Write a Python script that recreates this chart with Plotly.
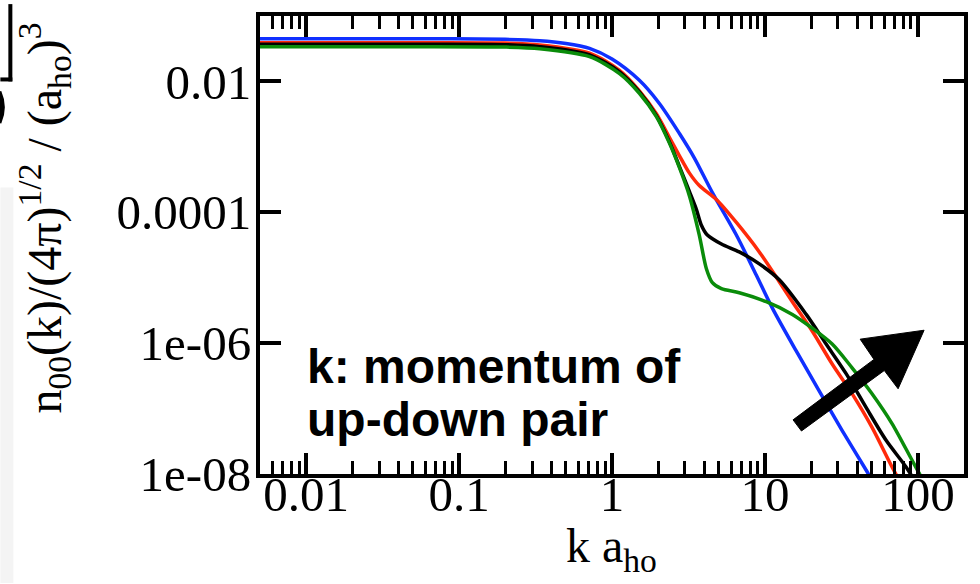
import plotly.graph_objects as go

# ---------------- data ----------------
k_blue = [0.005, 0.05, 0.2, 0.337, 0.5, 0.713, 1.0, 1.51, 2.04, 2.76, 3.45, 4.53, 6.5, 8.77, 11.2, 16.0, 22.6, 31.9, 45.8, 60]
n_blue = [0.045, 0.045, 0.044, 0.042, 0.038, 0.032, 0.022, 0.0104, 0.0046, 0.0016, 6.8e-4, 2.0e-4, 4.5e-5, 1.1e-5, 3.4e-6, 7.6e-7, 1.87e-7, 4.65e-8, 1.15e-8, 3.9e-9]

k_red = [0.005, 0.05, 0.2, 0.337, 0.713, 1.12, 1.51, 1.95, 2.37, 2.76, 3.2, 3.72, 4.81, 6.5, 9.18, 12.4, 15.1, 20.4, 27.5, 37.1, 50.1, 67.7, 80]
n_red = [0.039, 0.039, 0.0385, 0.036, 0.027, 0.0148, 0.0072, 0.0032, 1.4e-3, 7.3e-4, 4.0e-4, 2.56e-4, 1.57e-4, 7.0e-5, 2.48e-5, 8.7e-6, 4.3e-6, 1.52e-6, 4.8e-7, 1.69e-7, 5.15e-8, 1.28e-8, 6.3e-9]

k_black = [0.005, 0.05, 0.2, 0.337, 0.713, 1.12, 1.51, 1.95, 2.37, 2.76, 3.2, 3.56, 3.84, 4.2, 5.19, 6.79, 9.18, 12.4, 18.6, 25.1, 34.0, 45.8, 61.9, 83.6, 100]
n_black = [0.037, 0.037, 0.0365, 0.034, 0.0255, 0.014, 0.0069, 0.0030, 1.2e-3, 5.0e-4, 2.1e-4, 1.11e-4, 6.35e-5, 4.49e-5, 3.27e-5, 2.48e-5, 1.63e-5, 9.3e-6, 2.75e-6, 9.7e-7, 3.39e-7, 1.04e-7, 3.27e-8, 1.28e-8, 6.5e-9]

k_green = [0.005, 0.05, 0.2, 0.337, 0.713, 1.12, 1.51, 1.95, 2.37, 2.76, 3.2, 3.72, 4.14, 4.53, 5.19, 6.79, 10.2, 15.1, 20.4, 27.5, 37.1, 50.1, 67.7, 91.4, 110]
n_green = [0.034, 0.034, 0.0335, 0.0316, 0.0239, 0.0132, 0.0066, 0.0029, 1.15e-3, 4.8e-4, 1.81e-4, 4.49e-5, 1.37e-5, 8.4e-6, 6.8e-6, 5.9e-6, 4.3e-6, 2.75e-6, 1.69e-6, 9.7e-7, 4.2e-7, 1.69e-7, 5.9e-8, 1.63e-8, 7.4e-9]

x_tickvals = [0.01, 0.1, 1, 10, 100]
x_ticktext = ["0.01", "0.1", "1", "10", "100"]
y_tickvals = [1e-8, 1e-6, 1e-4, 1e-2]
y_ticktext = ["1e-08", "1e-06", "0.0001", "0.01"]
x_minor = [m * 10.0 ** e for e in range(-3, 3) for m in range(2, 10)]

# ---------------- layout geometry ----------------
W, H = 980, 584
L, R, T, B = 260, 15, 12, 110
PW, PH = W - L - R, H - T - B


def px(x):
    return (x - L) / PW


def py(y):
    return (H - B - y) / PH


SERIF = "Liberation Serif, Times New Roman, serif"
SANS = "Liberation Sans, Arial, sans-serif"

fig = go.Figure()
series = [
    (k_blue, n_blue, "#1030ff"),
    (k_red, n_red, "#ff2a0a"),
    (k_black, n_black, "#000000"),
    (k_green, n_green, "#0a8c0a"),
]
for kx, ny, col in series:
    fig.add_trace(go.Scatter(x=kx, y=ny, mode="lines",
                             line=dict(color=col, width=3.5, shape="spline", smoothing=0.8),
                             showlegend=False, hoverinfo="skip"))

axis_common = dict(showline=True, linecolor="black", linewidth=4, mirror="allticks",
                   ticks="inside", tickcolor="black", tickwidth=4, ticklen=21,
                   showgrid=False, zeroline=False,
                   tickfont=dict(family=SERIF, size=49, color="black"))

fig.update_xaxes(type="log", range=[-2.30103, 2.30103], tickmode="array",
                 tickvals=x_tickvals, ticktext=x_ticktext, ticklabelstandoff=-26,
                 minor=dict(tickmode="array", tickvals=x_minor, ticks="inside",
                            ticklen=13, tickwidth=3, tickcolor="black", showgrid=False),
                 **axis_common)
fig.update_yaxes(type="log", range=[-8, -1], tickmode="array", ticklabelstandoff=-5,
                 tickvals=y_tickvals, ticktext=y_ticktext, **axis_common)

# axis titles as annotations
fig.add_annotation(x=px(612), y=py(550), xref="paper", yref="paper",
                   text="k a<sub>ho</sub>", showarrow=False,
                   font=dict(family=SERIF, size=48, color="black"),
                   xanchor="center", yanchor="middle")
fig.add_annotation(x=px(44), y=py(216), xref="paper", yref="paper",
                   text="n<sub>00</sub>(k)/(4π)<sup>1/2</sup> / (a<sub>ho</sub>)<sup>3</sup>",
                   showarrow=False, textangle=-90,
                   font=dict(family=SERIF, size=48, color="black"),
                   xanchor="center", yanchor="middle")

# text annotation in plot
fig.add_annotation(x=px(305), y=py(366), xref="paper", yref="paper",
                   text="<b>k: momentum of</b>", showarrow=False,
                   font=dict(family=SANS, size=48, color="black"),
                   xanchor="left", yanchor="middle")
fig.add_annotation(x=px(305), y=py(419), xref="paper", yref="paper",
                   text="<b>up-down pair</b>", showarrow=False,
                   font=dict(family=SANS, size=48, color="black"),
                   xanchor="left", yanchor="middle")

# big arrow (pixel polygon -> paper)
arrow_px = [(793.8, 419.4), (874.8, 358.4), (861, 338), (925, 329),
            (899, 388), (885.2, 369.6), (802.2, 430.6)]
path = "M " + " L ".join(f"{px(a):.4f},{py(b):.4f}" for a, b in arrow_px) + " Z"
fig.add_shape(type="path", path=path, xref="paper", yref="paper",
              fillcolor="black", line=dict(color="black", width=1))

# left-edge remnants of neighbouring slide content
fig.add_shape(type="rect", xref="paper", yref="paper",
              x0=px(0), x1=px(13), y0=py(584), y1=py(185),
              fillcolor="#f4f4f4", line=dict(width=0), layer="below")
fig.add_shape(type="line", xref="paper", yref="paper",
              x0=px(10), x1=px(10), y0=py(0), y1=py(78),
              line=dict(color="black", width=4))
fig.add_shape(type="line", xref="paper", yref="paper",
              x0=px(0), x1=px(12), y0=py(76), y1=py(76),
              line=dict(color="black", width=4))
fig.add_shape(type="path", xref="paper", yref="paper",
              path=(f"M {px(0):.4f},{py(88):.4f} Q {px(7):.4f},{py(104):.4f} "
                    f"{px(0):.4f},{py(120):.4f} Z"),
              fillcolor="black", line=dict(color="black", width=2))

fig.update_layout(width=W, height=H, margin=dict(l=L, r=R, t=T, b=B),
                  paper_bgcolor="white", plot_bgcolor="white", showlegend=False)

fig.write_html("out.html")
